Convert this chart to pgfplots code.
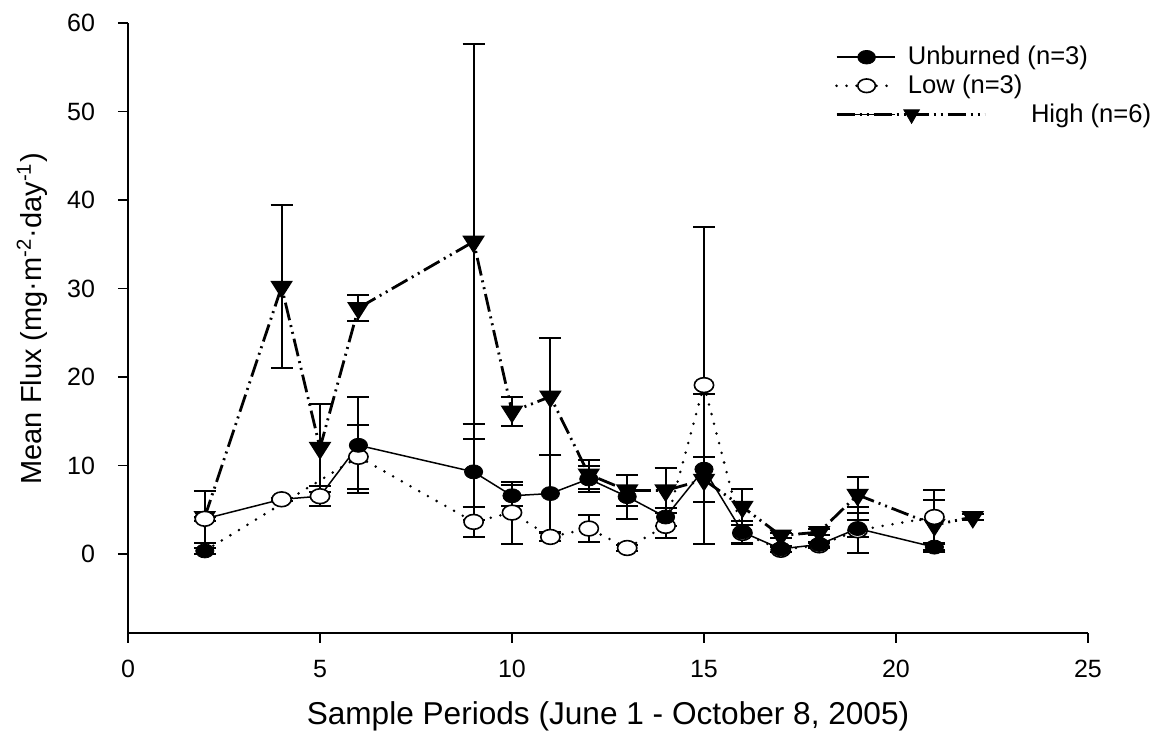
\documentclass[border=0pt]{standalone}
\usepackage{fontspec}
\setmainfont{Liberation Sans}
\usepackage{pgfplots}
\pgfplotsset{compat=1.18}
\usepackage{pgfplotstable}

% Unburned plots: mean flux and standard error
\pgfplotstableread{
x  y     e
2  0.37  0.3
6  12.3  5.4
9  9.3   5.4
10 6.6   1.2
11 6.85  4.3
12 8.5   1.5
13 6.5   2.5
14 4.2   1.0
15 9.6   8.45
16 2.5   1.2
17 0.6   0.3
18 1.1   0.3
19 2.9   1.0
21 0.8   0.5
}\unburned
% connecting line as drawn for the unburned series
\pgfplotstableread{
x  y
2  4.0
4  6.2
5  6.55
6  12.3
9  9.3
10 6.6
11 6.85
12 8.5
13 6.5
14 4.2
15 9.6
16 2.5
17 0.6
18 1.1
19 2.9
21 0.8
}\unburnedpath

% Low severity burn
\pgfplotstableread{
x  y     e
2  4.0   0.2
4  6.2   0.2
5  6.55  1.1
6  11.0  3.6
9  3.65  1.7
10 4.7   3.5
11 1.95  0.5
12 2.9   1.5
13 0.7   0.3
14 3.2   1.4
15 19.1  17.9
16 2.4   1.3
17 0.5   0.3
18 1.0   0.3
19 2.7   2.6
21 4.2   3.0
}\low
\pgfplotstableread{
x  y
2  0.37
6  11.0
9  3.65
10 4.7
11 1.95
12 2.9
13 0.7
14 3.2
15 19.1
16 2.4
17 0.5
18 1.0
19 2.7
21 4.2
}\lowpath

% High severity burn
\pgfplotstableread{
x  y     e
2  4.2   2.9
4  30.2  9.2
5  12.0  5.0
6  27.8  1.5
9  35.3  22.3
10 16.1  1.6
11 17.8  6.6
12 9.0   1.6
13 7.2   1.8
14 7.2   2.5
15 8.4   2.55
16 5.35  2.0
17 2.1   0.3
18 2.5   0.3
19 6.7   2.0
21 3.3   2.8
22 4.2   0.3
}\high

\tikzset{
  highdash/.style={line width=1.4pt, dash pattern=on 9pt off 2.5pt on 1pt off 2.5pt on 1pt off 2.5pt},
  lowdots/.style={line width=1.4pt, line cap=round, dash pattern=on 0pt off 5pt},
}

\begin{document}
\begin{tikzpicture}
\path[use as bounding box] (-64pt,-50pt) rectangle (518pt,316.5pt);
\begin{axis}[
  at={(0pt,0pt)}, anchor=south west,
  scale only axis, width=480pt, height=305pt,
  xmin=0, xmax=25, ymin=-8.9, ymax=60,
  axis x line*=bottom, axis y line*=left,
  axis line style={line width=0.75pt},
  xtick={0,5,...,25}, ytick={0,10,...,60},
  tick align=outside, major tick length=5pt,
  tick style={black, line width=0.75pt},
  minor tick num=0,
  /pgf/number format/assume math mode=true,
  ticklabel style={font=\fontsize{12.5}{14}\selectfont},
  xticklabel style={yshift=-5pt},
  yticklabel style={xshift=-8pt},
  xlabel={Sample Periods (June 1 - October 8, 2005)},
  ylabel={Mean Flux (mg·m\textsuperscript{-2}·day\textsuperscript{-1})},
  xlabel style={font=\fontsize{15.8}{17}\selectfont, at={(axis description cs:0.5,-0.136)}, anchor=center},
  ylabel style={font=\fontsize{14.5}{16}\selectfont, at={(axis description cs:-0.1,0.515)}, anchor=center},
  clip=false,
  legend cell align=left,
  legend style={draw=none, fill=none, at={(axis cs:18.25,58.3)}, anchor=north west,
    font=\fontsize{12.8}{14}\selectfont, row sep=-0.5pt, column sep=4pt},
  error bars/y dir=both, error bars/y explicit,
  error bars/error bar style={solid, line width=1pt, black},
  error bars/error mark options={rotate=90, solid, line width=1pt, black, mark size=5.5pt},
]

\addlegendimage{legend image code/.code={
  \draw[black, line width=0.75pt] (0pt,0pt) -- (29pt,0pt);
  \draw[black, mark=*, mark size=3.4pt, mark options={xscale=1.3}] plot coordinates {(15pt,0pt)};}}
\addlegendentry{Unburned (n=3)}
\addlegendimage{legend image code/.code={
  \draw[black, lowdots] (0pt,0pt) -- (29pt,0pt);
  \draw[black, mark=*, mark size=3.4pt, mark options={fill=white, xscale=1.3, line width=0.8pt}] plot coordinates {(15pt,0pt)};}}
\addlegendentry{Low (n=3)}
\addlegendimage{legend image code/.code={
  \path (0pt,0pt) -- (29pt,0pt);
  \draw[overlay, black, highdash] (0pt,0pt) -- (74pt,0pt);
  \draw[overlay, black, mark=triangle*, mark size=4.5pt, mark options={rotate=180, solid}] plot coordinates {(37.5pt,0pt)};}}
\addlegendentry{\hspace*{61.5pt}High (n=6)}

% high severity: dash-dot-dot line with down triangles
\addplot[black, highdash, mark=triangle*, mark size=4.6pt,
  mark options={solid, rotate=180, xscale=1.1}]
  table[x=x, y=y, y error=e] {\high};

% low severity: dotted line, open circles
\addplot[black, lowdots, forget plot] table[x=x, y=y] {\lowpath};
\addplot[black, only marks, mark=*, mark size=3.7pt,
  mark options={fill=white, xscale=1.3, line width=0.8pt}]
  table[x=x, y=y, y error=e] {\low};

% unburned: thin solid line, filled circles
\addplot[black, line width=0.75pt, forget plot] table[x=x, y=y] {\unburnedpath};
\addplot[black, only marks, mark=*, mark size=3.5pt, mark options={xscale=1.3}]
  table[x=x, y=y, y error=e] {\unburned};

\end{axis}
\end{tikzpicture}
\end{document}
